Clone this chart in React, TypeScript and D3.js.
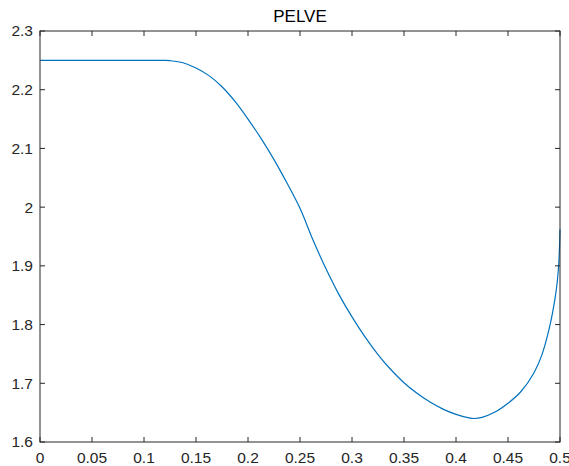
import React from "react";
import * as d3 from "d3";

const title = "PELVE";
const xTicks = [0, 0.05, 0.1, 0.15, 0.2, 0.25, 0.3, 0.35, 0.4, 0.45, 0.5];
const yTicks = [1.6, 1.7, 1.8, 1.9, 2, 2.1, 2.2, 2.3];
const xValues = [
  0, 0.025, 0.05, 0.075, 0.1, 0.12, 0.125, 0.1375, 0.15, 0.1625, 0.175, 0.1875,
  0.2, 0.2125, 0.225, 0.2375, 0.25, 0.2625, 0.275, 0.2875, 0.3, 0.3125, 0.325,
  0.3375, 0.35, 0.3625, 0.375, 0.3875, 0.4, 0.4125, 0.4175, 0.425, 0.4375,
  0.45, 0.4625, 0.475, 0.4825, 0.49, 0.495, 0.4975, 0.499, 0.5,
];
const yValues = [
  2.25, 2.25, 2.25, 2.25, 2.25, 2.25, 2.2495, 2.246, 2.237, 2.224, 2.205, 2.18,
  2.15, 2.117, 2.081, 2.041, 1.998, 1.944, 1.895, 1.851, 1.813, 1.779, 1.749,
  1.723, 1.701, 1.683, 1.668, 1.656, 1.647, 1.641, 1.64, 1.642, 1.651,
  1.666, 1.686, 1.718, 1.748, 1.796, 1.842, 1.875, 1.91, 1.962,
];

const W = 569;
const H = 466;
const M = { left: 40, right: 560, top: 31, bottom: 442 };
const AX = "#262626";
const FONT = "'Liberation Sans', Arial, Helvetica, sans-serif";

export default function App() {
  const x = d3.scaleLinear().domain([0, 0.5]).range([M.left, M.right]);
  const y = d3.scaleLinear().domain([1.6, 2.3]).range([M.bottom, M.top]);
  const pts: [number, number][] = xValues.map((v, i) => [v, yValues[i]]);
  const line = d3
    .line<[number, number]>()
    .x((d) => x(d[0]))
    .y((d) => y(d[1]))
    .curve(d3.curveCatmullRom.alpha(0.5));
  const tl = 5;
  const fmt = (v: number) => String(v);
  return (
    <svg
      width={W}
      height={H}
      style={{ position: "absolute", left: 0, top: 0, background: "#fff" }}
    >
      <rect x={0} y={0} width={W} height={H} fill="#fff" />
      <path d={line(pts) || ""} fill="none" stroke="#0072BD" strokeWidth={1.2} />
      <rect
        x={M.left}
        y={M.top}
        width={M.right - M.left}
        height={M.bottom - M.top}
        fill="none"
        stroke={AX}
        strokeWidth={1}
      />
      {xTicks.map((t) => (
        <g key={"x" + t}>
          <line x1={x(t)} x2={x(t)} y1={M.bottom} y2={M.bottom - tl} stroke={AX} />
          <line x1={x(t)} x2={x(t)} y1={M.top} y2={M.top + tl} stroke={AX} />
          <text
            x={x(t)}
            y={463}
            textAnchor="middle"
            fontFamily={FONT}
            fontSize={15.5}
            fill={AX}
          >
            {fmt(t)}
          </text>
        </g>
      ))}
      {yTicks.map((t) => (
        <g key={"y" + t}>
          <line x1={M.left} x2={M.left + tl} y1={y(t)} y2={y(t)} stroke={AX} />
          <line x1={M.right} x2={M.right - tl} y1={y(t)} y2={y(t)} stroke={AX} />
          <text
            x={33}
            y={y(t)}
            dy="0.35em"
            textAnchor="end"
            fontFamily={FONT}
            fontSize={15.5}
            fill={AX}
          >
            {fmt(t)}
          </text>
        </g>
      ))}
      <text
        x={(M.left + M.right) / 2}
        y={22}
        textAnchor="middle"
        fontFamily={FONT}
        fontSize={17}
        fill="#000"
      >
        {title}
      </text>
    </svg>
  );
}
